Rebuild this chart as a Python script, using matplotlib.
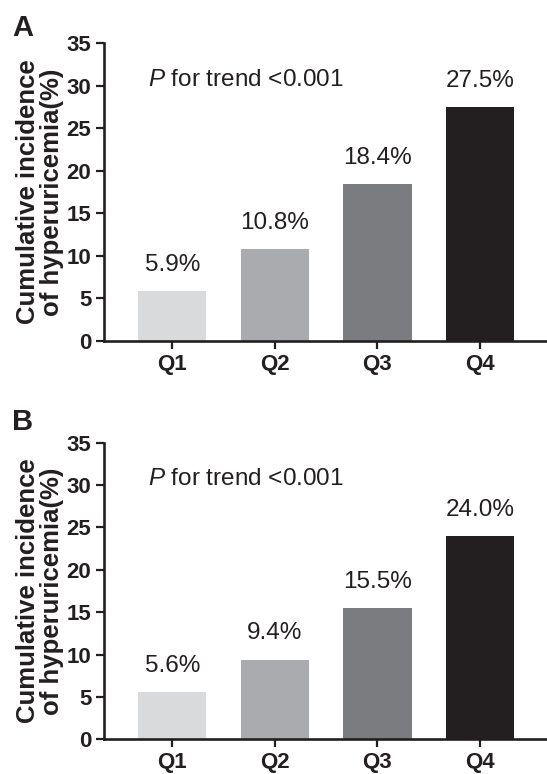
import matplotlib
matplotlib.use("Agg")
import matplotlib.pyplot as plt

plt.rcParams['font.family'] = ['Liberation Sans', 'DejaVu Sans']
plt.rcParams['mathtext.fontset'] = 'custom'
plt.rcParams['mathtext.it'] = 'Liberation Sans:italic'
plt.rcParams['mathtext.rm'] = 'Liberation Sans'

# Quartile groups and cumulative incidence (%)
groups = ['Q1', 'Q2', 'Q3', 'Q4']
incidence_a = [5.9, 10.8, 18.4, 27.5]
incidence_b = [5.6, 9.4, 15.5, 24.0]
panel_labels = ['A', 'B']
trend_text = r'$\it{P}$ for trend <0.001'
bar_colors = ['#d9dadb', '#aaabae', '#7b7c80', '#231f20']
ink = '#231f20'

fig = plt.figure(figsize=(5.47, 7.74), dpi=100)

# axes boxes in figure fractions (left, bottom, width, height)
boxes = [(0.190, 0.5594, 0.810, 0.3850),
         (0.190, 0.0448, 0.810, 0.3832)]
letter_y = [1 - 14 / 774, 1 - 408 / 774]


def draw_panel(box, values, letter, ly):
    ax = fig.add_axes(box)
    x = range(len(groups))
    ax.bar(x, values, width=0.665, color=bar_colors, edgecolor='none')
    for xi, v in zip(x, values):
        ax.annotate('{:.1f}%'.format(v), (xi, v), xytext=(0, 11),
                    textcoords='offset points', ha='center', va='bottom',
                    fontsize=17.5, color=ink)
    ax.text(-0.234, 30.0, trend_text, fontsize=17.5, color=ink,
            ha='left', va='baseline')
    ax.set_xlim(-0.666, 3.653)
    ax.set_ylim(0, 35)
    ax.set_yticks(range(0, 36, 5))
    ax.set_xticks(list(x))
    ax.set_xticklabels(groups)
    for s in ['top', 'right']:
        ax.spines[s].set_visible(False)
    for s in ['left', 'bottom']:
        ax.spines[s].set_linewidth(1.9)
        ax.spines[s].set_color(ink)
    ax.tick_params(axis='both', length=6, width=1.6, color=ink,
                   labelsize=16, labelcolor=ink)
    ax.tick_params(axis='y', pad=3)
    ax.tick_params(axis='x', pad=3, labelsize=16)
    for lab in ax.get_xticklabels() + ax.get_yticklabels():
        lab.set_fontweight('bold')
    ax.set_ylabel('Cumulative incidence\nof hyperuricemia(%)', fontsize=18.5,
                  fontweight='bold', color=ink, linespacing=1.0, labelpad=2)
    fig.text(12 / 547, ly, letter, fontsize=21, fontweight='bold',
             color=ink, ha='left', va='top')
    return ax


draw_panel(boxes[0], incidence_a, panel_labels[0], letter_y[0])
draw_panel(boxes[1], incidence_b, panel_labels[1], letter_y[1])

fig.savefig('out.png', dpi=100)
